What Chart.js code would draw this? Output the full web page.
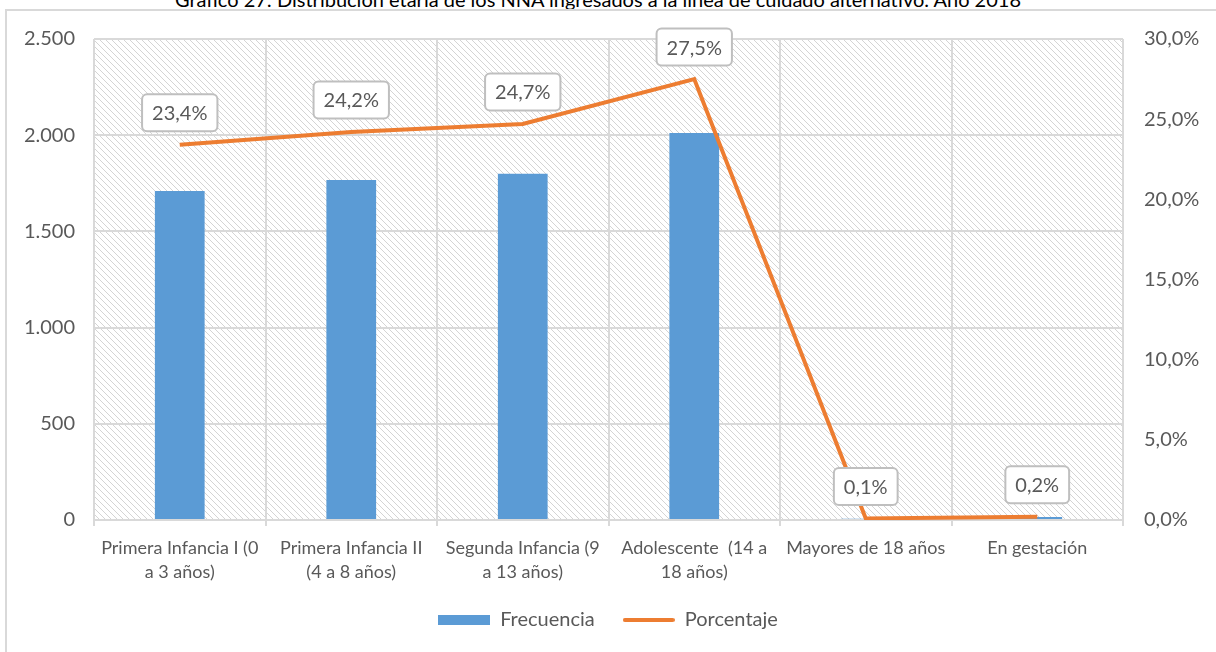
<!DOCTYPE html>
<html>
<head>
<meta charset="utf-8">
<script src="https://cdn.jsdelivr.net/npm/chart.js@4"></script>
<style>
  html, body { margin: 0; padding: 0; background: #fff; overflow: hidden; }
  #wrap { position: relative; width: 1216px; height: 652px; }
  #title {
    position: absolute; top: -11px; left: 0; width: 1196px; text-align: center;
    font-family: Lato, sans-serif; font-size: 20px; line-height: 20px; color: #000; white-space: nowrap;
  }
  #frame {
    position: absolute; left: 5px; top: 9px; right: 0; bottom: 0;
    border-left: 2px solid #d9d9d9; border-top: 2px solid #d9d9d9;
  }
  canvas { position: absolute; left: 0; top: 0; }
</style>
</head>
<body>
<div id="wrap">
  <div id="title">Gráfico 27: Distribución etaria de los NNA ingresados a la línea de cuidado alternativo. Año 2018</div>
  <div id="frame"></div>
  <canvas id="chart" width="1216" height="652"></canvas>
</div>
<script>
const categories = [
  ['Primera Infancia I (0', 'a 3 años)'],
  ['Primera Infancia II', '(4 a 8 años)'],
  ['Segunda Infancia (9', 'a 13 años)'],
  ['Adolescente  (14 a', '18 años)'],
  'Mayores de 18 años',
  'En gestación'
];
const frecuencia = [1710, 1767, 1800, 2011, 7, 15];
const porcentaje = [23.4, 24.2, 24.7, 27.5, 0.1, 0.2];

const FONT = 'Lato';
const GREY = '#595959';
const BLUE = '#5B9BD5';
const ORANGE = '#ED7D31';

// hatch pattern for the plot background
function makeHatch() {
  const c = document.createElement('canvas');
  c.width = 6; c.height = 6;
  const g = c.getContext('2d');
  g.strokeStyle = '#d4d4d4';
  g.lineWidth = 1;
  g.beginPath();
  g.moveTo(0, 0); g.lineTo(6, 6);
  g.moveTo(-3, 3); g.lineTo(3, 9);
  g.moveTo(3, -3); g.lineTo(9, 3);
  g.stroke();
  return c;
}

// legend swatches
function swatch(w, h, color, round) {
  const c = document.createElement('canvas');
  c.width = w; c.height = h;
  const g = c.getContext('2d');
  g.fillStyle = color;
  if (round) {
    g.beginPath();
    g.roundRect(0, 0, w, h, h / 2);
    g.fill();
  } else {
    g.fillRect(0, 0, w, h);
  }
  return c;
}
const barSwatch = swatch(52, 10, BLUE, false);
const lineSwatch = swatch(52, 4, ORANGE, true);

const hatchBg = {
  id: 'hatchBg',
  beforeDraw(chart) {
    const {ctx, chartArea: a} = chart;
    ctx.save();
    ctx.fillStyle = ctx.createPattern(makeHatch(), 'repeat');
    ctx.fillRect(a.left, a.top, a.right - a.left, a.bottom - a.top);
    ctx.restore();
  }
};

const pctLabels = {
  id: 'pctLabels',
  afterDatasetsDraw(chart) {
    const ctx = chart.ctx;
    const meta = chart.getDatasetMeta(1);
    ctx.save();
    ctx.font = '20px ' + FONT;
    ctx.textAlign = 'center';
    ctx.textBaseline = 'middle';
    meta.data.forEach((pt, i) => {
      const txt = porcentaje[i].toFixed(1).replace('.', ',') + '%';
      const w = ctx.measureText(txt).width + 20;
      const h = 37;
      const cx = pt.x, cy = pt.y - 32;
      ctx.beginPath();
      ctx.roundRect(cx - w / 2, cy - h / 2, w, h, 5);
      ctx.fillStyle = '#fff';
      ctx.fill();
      ctx.lineWidth = 2;
      ctx.strokeStyle = '#bfbfbf';
      ctx.stroke();
      ctx.fillStyle = GREY;
      ctx.fillText(txt, cx, cy + 1);
    });
    ctx.restore();
  }
};

new Chart(document.getElementById('chart'), {
  type: 'bar',
  data: {
    labels: categories,
    datasets: [{
      type: 'bar',
      label: 'Frecuencia',
      data: frecuencia,
      backgroundColor: BLUE,
      yAxisID: 'y',
      barPercentage: 0.29,
      categoryPercentage: 1,
      order: 1
    }, {
      type: 'line',
      label: 'Porcentaje',
      data: porcentaje,
      borderColor: ORANGE,
      backgroundColor: ORANGE,
      borderWidth: 4,
      pointRadius: 0,
      tension: 0,
      yAxisID: 'y1',
      order: 0
    }]
  },
  options: {
    responsive: false,
    animation: false,
    layout: { padding: { top: 39, left: 0, right: 0, bottom: 12 } },
    plugins: {
      title: { display: false },
      tooltip: { enabled: false },
      legend: {
        position: 'bottom',
        labels: {
          usePointStyle: true,
          pointStyleWidth: 52,
          boxHeight: 10,
          padding: 28,
          color: GREY,
          font: { family: FONT, size: 20 },
          generateLabels(chart) {
            return chart.data.datasets.map((ds, i) => ({
              text: ds.label,
              pointStyle: i === 0 ? barSwatch : lineSwatch,
              fontColor: GREY,
              lineWidth: 0,
              datasetIndex: i
            }));
          }
        }
      }
    },
    scales: {
      x: {
        grid: { color: '#d9d9d9', lineWidth: 2, offset: true, tickLength: 6 },
        border: { color: '#d9d9d9', width: 2 },
        ticks: {
          color: GREY, font: { family: FONT, size: 18, lineHeight: 1.35 }, maxRotation: 0,
          autoSkip: false, padding: 10
        },
        afterFit(axis) { axis.height = 62; }
      },
      y: {
        position: 'left',
        min: 0, max: 2500,
        ticks: {
          stepSize: 500, color: GREY, padding: 19,
          font: { family: FONT, size: 20 },
          callback: v => String(v).replace(/\B(?=(\d{3})+(?!\d))/g, '.')
        },
        grid: { color: '#d9d9d9', lineWidth: 2, drawTicks: false },
        border: { display: false },
        afterFit(axis) { axis.width = 94; }
      },
      y1: {
        position: 'right',
        min: 0, max: 30,
        ticks: {
          stepSize: 5, color: GREY, padding: 21,
          font: { family: FONT, size: 20 },
          callback: v => v.toFixed(1).replace('.', ',') + '%'
        },
        grid: { display: false, drawTicks: false },
        border: { display: false },
        afterFit(axis) { axis.width = 93; }
      }
    }
  },
  plugins: [hatchBg, pctLabels]
});
</script>
</body>
</html>
